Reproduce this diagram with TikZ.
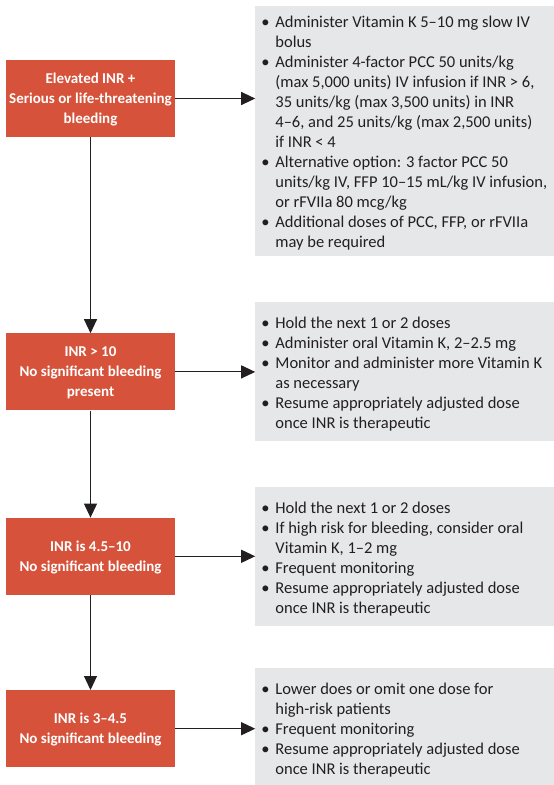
\documentclass[tikz,border=0pt]{standalone}
\usepackage{fontspec}
\setmainfont{Carlito}
\usepackage{xcolor}
\usetikzlibrary{positioning,arrows.meta}

\definecolor{inrred}{HTML}{D6523A}
\definecolor{advgray}{HTML}{E6E7E8}
\definecolor{inkdark}{HTML}{231F20}

% bullet line with hanging indent
\newcommand{\bul}{\par\noindent\hangindent=20pt\hangafter=1\makebox[20pt][l]{\hspace{6pt}\textbullet}}
% grey panel contents, top aligned
\newcommand{\advice}[3][15pt]{\begin{minipage}[c][#2][t]{299pt}\raggedright\fontsize{16.5}{20}\selectfont\vspace*{#1}#3\end{minipage}}

\begin{document}
\begin{tikzpicture}[node distance=80pt, >={Triangle[length=14pt,width=13pt]},
    inr/.style={rectangle, fill=inrred, text=white, font=\bfseries\fontsize{15}{20}\selectfont,
        align=center, minimum width=169pt, minimum height=77pt, inner sep=0pt, text depth=0pt},
    panel/.style={rectangle, fill=advgray, text=inkdark, inner sep=0pt},
    link/.style={->, line width=1.1pt, draw=inkdark}]
    \useasboundingbox (0,0) rectangle (554pt,-785pt);

    % INR levels
    \node[inr] (bleed) at (90.5pt,-98.5pt) {Elevated INR +\\Serious or life-threatening\\bleeding};
    \node[inr, below=196pt of bleed] (high) {INR > 10\\No significant bleeding\\present};
    \node[inr, below=107pt of high] (mid) {INR is 4.5--10\\No significant bleeding};
    \node[inr, below=95pt of mid] (low) {INR is 3--4.5\\No significant bleeding};

    % Management
    \node[panel, right=80pt of bleed, yshift=-32.5pt] (bleedcare) {\advice[10.5pt]{250pt}{%
        \bul Administer Vitamin K 5--10 mg slow IV\newline bolus
        \bul Administer 4-factor PCC 50 units/kg\newline (max 5,000 units) IV infusion if INR > 6,\newline 35 units/kg (max 3,500 units) in INR\newline 4--6, and 25 units/kg (max 2,500 units)\newline if INR < 4
        \bul Alternative option: 3 factor PCC 50\newline units/kg IV, FFP 10--15 mL/kg IV infusion,\newline or rFVIIa 80 mcg/kg
        \bul Additional doses of PCC, FFP, or rFVIIa\newline may be required}};
    \node[panel, right=80pt of high] (highcare) {\advice{139pt}{%
        \bul Hold the next 1 or 2 doses
        \bul Administer oral Vitamin K, 2--2.5 mg
        \bul Monitor and administer more Vitamin K\newline as necessary
        \bul Resume appropriately adjusted dose\newline once INR is therapeutic}};
    \node[panel, right=80pt of mid] (midcare) {\advice{139pt}{%
        \bul Hold the next 1 or 2 doses
        \bul If high risk for bleeding, consider oral\newline Vitamin K, 1--2 mg
        \bul Frequent monitoring
        \bul Resume appropriately adjusted dose\newline once INR is therapeutic}};
    \node[panel, right=80pt of low, yshift=2pt] (lowcare) {\advice{117pt}{%
        \bul Lower does or omit one dose for\newline high-risk patients
        \bul Frequent monitoring
        \bul Resume appropriately adjusted dose\newline once INR is therapeutic}};

    % Connections
    \draw[link] (bleed) -- (high);
    \draw[link] (high) -- (mid);
    \draw[link] (mid) -- (low);
    \draw[link] (bleed) -- (bleed -| bleedcare.west);
    \draw[link] (high) -- (high -| highcare.west);
    \draw[link] (mid) -- (mid -| midcare.west);
    \draw[link] (low) -- (low -| lowcare.west);
\end{tikzpicture}
\end{document}
